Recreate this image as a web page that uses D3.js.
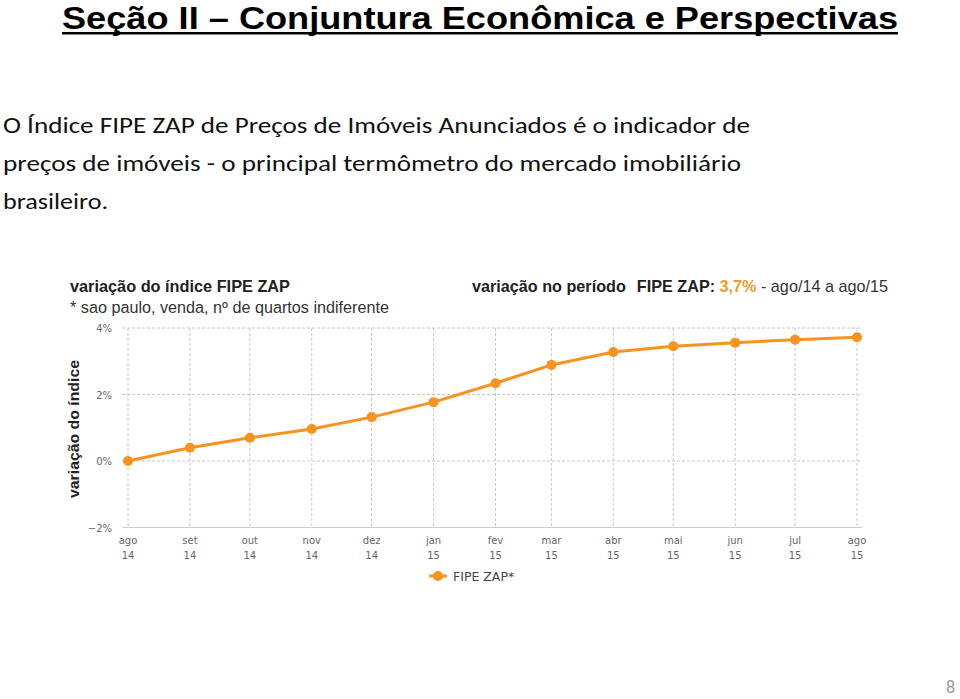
<!DOCTYPE html>
<html><head><meta charset="utf-8">
<script src="https://cdn.jsdelivr.net/npm/d3@7/dist/d3.min.js"></script>
<style>body{margin:0;background:#fff}svg{display:block}</style>
</head><body>
<script>
const months = ["2014-08-01","2014-09-01","2014-10-01","2014-11-01","2014-12-01","2015-01-01","2015-02-01","2015-03-01","2015-04-01","2015-05-01","2015-06-01","2015-07-01","2015-08-01"];
const monthLabels = ["ago","set","out","nov","dez","jan","fev","mar","abr","mai","jun","jul","ago"];
const yearLabels = ["14","14","14","14","14","15","15","15","15","15","15","15","15"];
const fipeZap = [0, 0.40, 0.70, 0.96, 1.32, 1.77, 2.34, 2.89, 3.28, 3.45, 3.56, 3.65, 3.72];
const yTicks = [-2, 0, 2, 4];
const bodyLines = ["O Índice FIPE ZAP de Preços de Imóveis Anunciados é o indicador de",
  "preços de imóveis - o principal termômetro do mercado imobiliário",
  "brasileiro."];

const W = 960, H = 699;
const svg = d3.select("body").append("svg").attr("width", W).attr("height", H);

// Slide title
svg.append("text").attr("x", 62).attr("y", 29)
  .attr("font-family", "'Liberation Sans Narrow', 'Liberation Sans', Arial, sans-serif")
  .attr("font-weight", "bold").attr("font-size", 32).attr("fill", "#000")
  .attr("textLength", 836).attr("lengthAdjust", "spacingAndGlyphs")
  .text("Seção II – Conjuntura Econômica e Perspectivas");
svg.append("rect").attr("x", 62).attr("y", 32).attr("width", 836).attr("height", 2.5).attr("fill", "#000");

// Body text
const bodyY = [133, 171, 209];
const bodyW = [747, 738, 105];
bodyLines.forEach((t, i) => {
  svg.append("text").attr("x", 3).attr("y", bodyY[i])
    .attr("font-family", "Carlito, Lato, 'Open Sans', sans-serif")
    .attr("font-size", 23).attr("fill", "#111")
    .attr("textLength", bodyW[i]).attr("lengthAdjust", "spacingAndGlyphs")
    .text(t);
});

// Chart header
const hf = "Arial, 'Liberation Sans', sans-serif";
svg.append("text").attr("x", 70).attr("y", 292).attr("font-family", hf)
  .attr("font-weight", "bold").attr("font-size", 16.3).attr("fill", "#222")
  .attr("textLength", 220).attr("lengthAdjust", "spacingAndGlyphs")
  .text("variação do índice FIPE ZAP");
svg.append("text").attr("x", 70).attr("y", 313).attr("font-family", hf)
  .attr("font-size", 16.3).attr("fill", "#333")
  .attr("textLength", 319).attr("lengthAdjust", "spacingAndGlyphs")
  .text("* sao paulo, venda, nº de quartos indiferente");
const rt = svg.append("text").attr("x", 472).attr("y", 292).attr("font-family", hf)
  .attr("font-size", 16.2).attr("fill", "#222");
rt.append("tspan").attr("font-weight", "bold").text("variação no período");
rt.append("tspan").attr("font-weight", "bold").attr("dx", 11).text("FIPE ZAP: ");
rt.append("tspan").attr("font-weight", "bold").attr("fill", "#f39a2b").text("3,7%");
rt.append("tspan").attr("fill", "#333").text(" - ago/14 a ago/15");

// Scales
const dates = months.map(d => new Date(d + "T00:00:00"));
const x = d3.scaleTime().domain([dates[0], dates[dates.length - 1]]).range([128, 857]);
const y = d3.scaleLinear().domain([-2, 4]).range([527.5, 328]);

const g = svg.append("g");
g.selectAll("line.hg").data(yTicks.filter(v => v !== -2)).enter().append("line")
  .attr("x1", 122).attr("x2", 862).attr("y1", d => y(d)).attr("y2", d => y(d))
  .attr("stroke", "#c8c8c8").attr("stroke-dasharray", "3,2").attr("stroke-width", 1);
g.selectAll("line.vg").data(dates).enter().append("line")
  .attr("x1", d => x(d)).attr("x2", d => x(d)).attr("y1", y(4)).attr("y2", y(-2))
  .attr("stroke", "#c8c8c8").attr("stroke-dasharray", "3,2").attr("stroke-width", 1);
g.append("line").attr("x1", 122).attr("x2", 862).attr("y1", y(-2)).attr("y2", y(-2))
  .attr("stroke", "#c0d0e0").attr("stroke-width", 1);

const tf = "'DejaVu Sans', Verdana, sans-serif";
g.selectAll("text.yt").data(yTicks).enter().append("text")
  .attr("x", 112).attr("y", d => y(d) + 4).attr("text-anchor", "end")
  .attr("font-family", tf).attr("font-size", 10).attr("fill", "#666")
  .text(d => (d < 0 ? "−" + Math.abs(d) : d) + "%");

g.selectAll("text.xm").data(dates).enter().append("text")
  .attr("x", d => x(d)).attr("y", 544).attr("text-anchor", "middle")
  .attr("font-family", tf).attr("font-size", 10).attr("fill", "#666")
  .text((d, i) => monthLabels[i]);
g.selectAll("text.xy").data(dates).enter().append("text")
  .attr("x", d => x(d)).attr("y", 559).attr("text-anchor", "middle")
  .attr("font-family", tf).attr("font-size", 10).attr("fill", "#666")
  .text((d, i) => yearLabels[i]);

svg.append("text").attr("transform", "translate(79,429) rotate(-90)")
  .attr("text-anchor", "middle").attr("font-family", hf).attr("font-weight", "bold")
  .attr("font-size", 15).attr("fill", "#222")
  .attr("textLength", 138).attr("lengthAdjust", "spacingAndGlyphs")
  .text("variação do índice");

const orange = "#f7931e";
const line = d3.line().x((d, i) => x(dates[i])).y(d => y(d));
g.append("path").datum(fipeZap).attr("d", line).attr("fill", "none")
  .attr("stroke", orange).attr("stroke-width", 3).attr("stroke-linejoin", "round");
g.selectAll("circle.pt").data(fipeZap).enter().append("circle")
  .attr("cx", (d, i) => x(dates[i])).attr("cy", d => y(d)).attr("r", 5).attr("fill", orange);

svg.append("line").attr("x1", 429).attr("x2", 447).attr("y1", 576).attr("y2", 576)
  .attr("stroke", orange).attr("stroke-width", 3);
svg.append("circle").attr("cx", 438).attr("cy", 576).attr("r", 5).attr("fill", orange);
svg.append("text").attr("x", 453).attr("y", 581).attr("font-family", tf)
  .attr("font-size", 12.5).attr("fill", "#444").text("FIPE ZAP*");

svg.append("text").attr("x", 955).attr("y", 693).attr("text-anchor", "end")
  .attr("font-family", "Carlito, Lato, sans-serif").attr("font-size", 18).attr("fill", "#999").text("8");
</script>
</body></html>
